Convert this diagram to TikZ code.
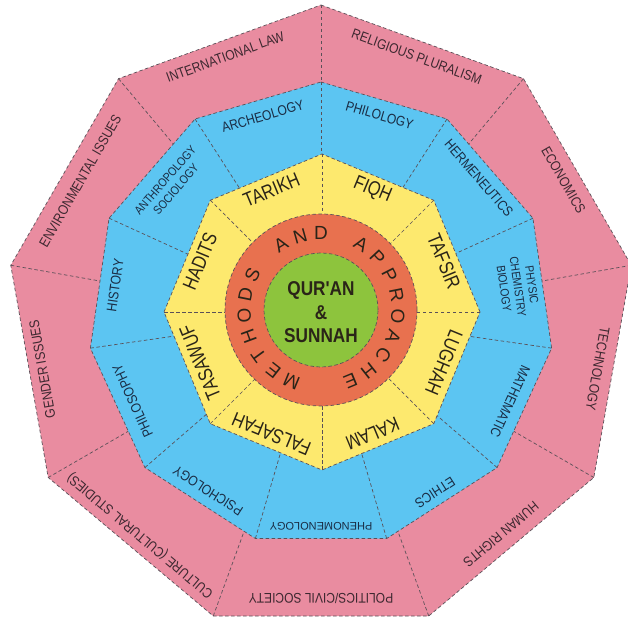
\documentclass[tikz,border=0pt]{standalone}
\usepackage{fontspec}
\setmainfont{Liberation Sans}
\newfontfamily\nsans[FakeStretch=0.86]{Liberation Sans}
\newfontfamily\ysans[FakeStretch=0.82]{Liberation Sans}
\usetikzlibrary{calc}
\definecolor{pinkc}{HTML}{E98CA0}
\definecolor{bluec}{HTML}{5CC5F2}
\definecolor{yelc}{HTML}{FDE96E}
\definecolor{redc}{HTML}{E8714F}
\definecolor{greenc}{HTML}{8DC43D}
\definecolor{dashc}{HTML}{5A5058}
\definecolor{ptext}{HTML}{3D2830}
\definecolor{btext}{HTML}{1A2C44}
\definecolor{ytext}{HTML}{2A2418}
\begin{document}
\begin{tikzpicture}[x=1pt,y=1pt,
  dl/.style={draw=dashc, line width=0.7pt, dash pattern=on 3.5pt off 2.5pt},
  plab/.style={font=\nsans\fontsize{14}{15}\selectfont, text=ptext, inner sep=0pt, align=center},
  blab/.style={font=\nsans\fontsize{14}{15}\selectfont, text=btext, inner sep=0pt, align=center},
  bsmall/.style={font=\nsans\fontsize{12}{14}\selectfont, text=btext, inner sep=0pt, align=center},
  ylab/.style={font=\ysans\fontsize{20}{22}\selectfont, text=ytext, inner sep=0pt},
  rlab/.style={font=\fontsize{19}{20}\selectfont, text=ytext, inner sep=0pt},
  glab/.style={font=\nsans\bfseries\fontsize{20}{23.5}\selectfont, text=ytext, inner sep=0pt, align=center}]
\useasboundingbox (0,0) rectangle (628,620);
\coordinate (P) at (321,300);
\coordinate (B) at (321,305);
\coordinate (Y) at (322,308);
\coordinate (C) at (321,310);

% pink ring
\begin{scope}[shift={(P)}]
  \fill[pinkc] (90:315) \foreach \k in {1,...,8}{ -- ({90-40*\k}:315)} -- cycle;
  \foreach \k in {0,...,8} \draw[dl] ({90-40*\k}:315) -- (0,0);
\end{scope}
% blue ring
\begin{scope}[shift={(B)}]
  \fill[bluec] (90:233) \foreach \k in {1,...,10}{ -- ({90-360/11*\k}:233)} -- cycle;
  \foreach \k in {0,...,10} \draw[dl] ({90-360/11*\k}:233) -- (0,0);
\end{scope}
% yellow ring
\begin{scope}[shift={(Y)}]
  \fill[yelc] (0:158) \foreach \k in {1,...,7}{ -- ({45*\k}:158)} -- cycle;
  \foreach \k in {0,...,7} \draw[dl] ({45*\k}:158) -- (0,0);
\end{scope}
% circles
\fill[redc] (C) circle (96);
\fill[greenc] (C) circle (57);
% outlines
\begin{scope}[shift={(P)}]
  \draw[dl] (90:315) \foreach \k in {1,...,8}{ -- ({90-40*\k}:315)} -- cycle;
\end{scope}
\begin{scope}[shift={(B)}]
  \draw[dl] (90:233) \foreach \k in {1,...,10}{ -- ({90-360/11*\k}:233)} -- cycle;
\end{scope}
\begin{scope}[shift={(Y)}]
  \draw[dl] (0:158) \foreach \k in {1,...,7}{ -- ({45*\k}:158)} -- cycle;
\end{scope}
\draw[dl] (C) circle (96);
\draw[dl] (C) circle (57);

% pink labels
\node[plab, rotate=20]   (p1) at ($(P)+(110:280)$) {INTERNATIONAL LAW};
\node[plab, rotate=-20]  (p2) at ($(P)+(70:280)$) {RELIGIOUS PLURALISM};
\node[plab, rotate=-60]  (p3) at ($(P)+(30:280)$) {ECONOMICS};
\node[plab, rotate=-100] (p4) at ($(P)+(-10:281)$) {TECHNOLOGY};
\node[plab, rotate=-140] (p5) at ($(P)+(-50:280)$) {HUMAN RIGHTS};
\node[plab, rotate=180]  (p6) at ($(P)+(-90:279)$) {POLITICS/CIVIL SOCIETY};
\node[plab, rotate=140]  (p7) at ($(P)+(-130:281)$) {CULTURE (CULTURAL STUDIES)};
\node[plab, rotate=100]  (p8) at ($(P)+(-170:283)$) {GENDER ISSUES};
\node[plab, rotate=60]   (p9) at ($(P)+(150:278)$) {ENVIRONMENTAL ISSUES};

% blue labels
\node[blab, rotate=16.36]   (b1) at ($(B)+(106.36:207)$) {ARCHEOLOGY};
\node[blab, rotate=-16.36]  (b2) at ($(B)+(73.64:208)$) {PHILOLOGY};
\node[blab, rotate=-49.09]  (b3) at ($(B)+(40.91:209)$) {HERMENEUTICS};
\node[bsmall, rotate=-81.82] (b4) at ($(B)+(8.18:199)$) {PHYSIC\\CHEMISTRY\\BIOLOGY};
\node[blab, rotate=-114.55] (b5) at ($(B)+(-24.55:208)$) {MATHEMATIC};
\node[blab, rotate=-147.27] (b6) at ($(B)+(-57.27:211)$) {ETHICS};
\node[bsmall, font=\fontsize{11}{12}\selectfont, rotate=180] (b7) at ($(B)+(-90:211)$) {PHENOMENOLOGY};
\node[blab, rotate=147.27]  (b8) at ($(B)+(-122.73:209)$) {PSICHOLOGY};
\node[blab, rotate=114.55]  (b9) at ($(B)+(-155.45:207)$) {PHILOSOPHY};
\node[blab, rotate=81.82]   (b10) at ($(B)+(171.82:208)$) {HISTORY};
\node[bsmall, rotate=49.09] (b11) at ($(B)+(139.09:199)$) {ANTHROPOLOGY\\SOCIOLOGY};

% yellow labels
\node[ylab, rotate=22.5]   (y1) at ($(Y)+(112.5:132)$) {TARIKH};
\node[ylab, rotate=-22.5]  (y2) at ($(Y)+(67.5:132)$) {FIQH};
\node[ylab, rotate=-67.5]  (y3) at ($(Y)+(22.5:132)$) {TAFSIR};
\node[ylab, rotate=-112.5] (y4) at ($(Y)+(-22.5:132)$) {LUGHAH};
\node[ylab, rotate=-157.5] (y5) at ($(Y)+(-67.5:132)$) {KALAM};
\node[ylab, rotate=157.5]  (y6) at ($(Y)+(-112.5:132)$) {FALSAFAH};
\node[ylab, rotate=112.5]  (y7) at ($(Y)+(-157.5:132)$) {TASAWUF};
\node[ylab, rotate=67.5]   (y8) at ($(Y)+(157.5:132)$) {HADITS};

% red ring lettering
\foreach \i/\ch in {0/M,1/E,2/T,3/H,4/O,5/D,6/S,8/A,9/N,10/D,12/A,13/P,14/P,15/R,16/O,17/A,18/C,19/H,20/E}{
  \pgfmathsetmacro{\ang}{247.5-15.75*\i}
  \node[rlab, rotate=\ang-90] (m\i) at ($(C)+(\ang:77)$) {\ch};
}

% centre
\node[glab] (core) at ($(C)+(0,-2.5)$) {QUR'AN\\\&\\SUNNAH};
\end{tikzpicture}
\end{document}
